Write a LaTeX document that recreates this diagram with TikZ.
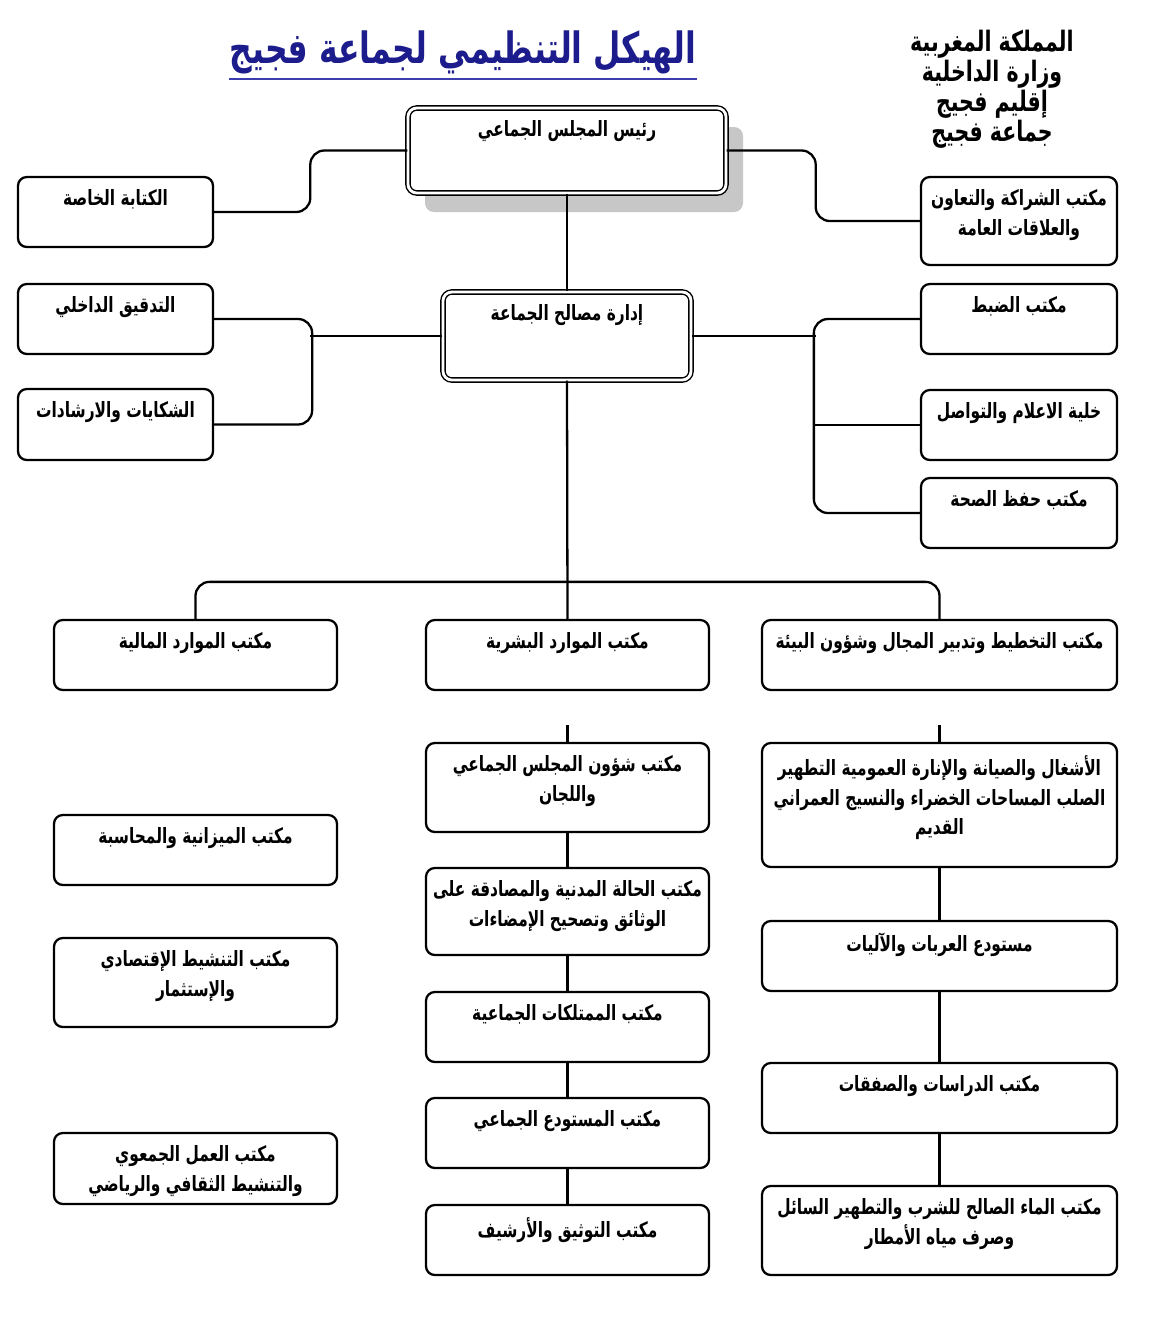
\documentclass[tikz,border=0pt]{standalone}
\usepackage{fontspec}
\usetikzlibrary{shadows}
\TeXXeTstate=1
\newfontfamily\arfont[Script=Arabic,FakeStretch=0.73]{DejaVu Sans}
\definecolor{titleblue}{RGB}{28,28,140}
\definecolor{lineblue}{RGB}{60,60,175}

\begin{document}
\begin{tikzpicture}[x=0.2mm, y=-0.2mm,
  unitbox/.style={draw, line width=1.3pt, rounded corners=5pt, fill=white, inner sep=0pt},
  headbox/.style={unitbox, line width=0.8pt, double, double distance=1.6pt},
  caption/.style={anchor=north, align=center, inner sep=0pt, yshift=-2.6mm, font=\arfont\bfseries\fontsize{12}{17}\selectfont},
  link/.style={line width=1.3pt, rounded corners=8pt}]
% parameters (px -> mm)
\def\px{0.2mm}
\useasboundingbox (0,0) rectangle (1150,1326);
% Title and header
\node[inner sep=0pt, text=titleblue, font=\arfont\bfseries\fontsize{24.5}{28}\selectfont] (title) at (463,52) {\beginR الهيكل التنظيمي لجماعة فجيج\endR};
\draw[lineblue, line width=1.1pt] ([yshift=-3pt]title.south west) -- ([yshift=-3pt]title.south east);
\node[inner sep=0pt, align=center, font=\arfont\bfseries\fontsize{16}{17}\selectfont] (kingdom) at (992,89) {\beginR المملكة المغربية\endR\\\beginR وزارة الداخلية\endR\\\beginR إقليم فجيج\endR\\\beginR جماعة فجيج\endR};
% President and administration
\node[headbox, minimum width=318*\px, minimum height=85*\px, drop shadow={shadow xshift=3.4mm, shadow yshift=-3.8mm, fill=black!22, opacity=1},
      label={[caption]north:{\beginR رئيس المجلس الجماعي\endR}}] (pres) at (567,150.5) {};
\node[headbox, minimum width=248*\px, minimum height=88*\px,
      label={[caption]north:{\beginR إدارة مصالح الجماعة\endR}}] (idara) at (567,336) {};
% Left side boxes
\node[unitbox, minimum width=195*\px, minimum height=70*\px, label={[caption]north:{\beginR الكتابة الخاصة\endR}}] (kitaba) at (115.5,212) {};
\node[unitbox, minimum width=195*\px, minimum height=70*\px, label={[caption]north:{\beginR التدقيق الداخلي\endR}}] (tadqiq) at (115.5,319) {};
\node[unitbox, minimum width=195*\px, minimum height=71*\px, label={[caption]north:{\beginR الشكايات والارشادات\endR}}] (shikayat) at (115.5,424.5) {};
% Right side boxes
\node[unitbox, minimum width=196*\px, minimum height=88*\px, label={[caption]north:{\beginR مكتب الشراكة والتعاون\endR\\\beginR والعلاقات العامة\endR}}] (shiraka) at (1019,221) {};
\node[unitbox, minimum width=196*\px, minimum height=70*\px, label={[caption]north:{\beginR مكتب الضبط\endR}}] (dabt) at (1019,319) {};
\node[unitbox, minimum width=196*\px, minimum height=70*\px, label={[caption]north:{\beginR خلية الاعلام والتواصل\endR}}] (khaliya) at (1019,425) {};
\node[unitbox, minimum width=196*\px, minimum height=70*\px, label={[caption]north:{\beginR مكتب حفظ الصحة\endR}}] (hifd) at (1019,513) {};
% Three main offices
\node[unitbox, minimum width=283*\px, minimum height=70*\px, label={[caption]north:{\beginR مكتب  الموارد المالية\endR}}] (maliya) at (195.5,655) {};
\node[unitbox, minimum width=283*\px, minimum height=70*\px, label={[caption]north:{\beginR مكتب الموارد البشرية\endR}}] (bashari) at (567.5,655) {};
\node[unitbox, minimum width=355*\px, minimum height=70*\px, label={[caption]north:{\beginR مكتب التخطيط وتدبير المجال وشؤون البيئة\endR}}] (takhtit) at (939.5,655) {};
% Left column
\foreach \name/\yc/\h/\txt in {mizaniya/850/70/{\beginR مكتب الميزانية والمحاسبة\endR},
    tanshit/982.5/89/{\beginR مكتب  التنشيط الإقتصادي\endR\\\beginR والإستثمار\endR},
    amal/1168.5/71/{\beginR مكتب العمل الجمعوي\endR\\\beginR والتنشيط الثقافي والرياضي\endR}} {
    \node[unitbox, minimum width=283*\px, minimum height=\h*\px, label={[caption]north:{\txt}}] (\name) at (195.5,\yc) {};
}
% Middle column
\foreach \name/\yc/\h/\txt in {shuun/787.5/89/{\beginR مكتب شؤون المجلس الجماعي\endR\\\beginR واللجان\endR},
    hala/911.5/87/{\beginR مكتب الحالة المدنية  والمصادقة على\endR\\\beginR الوثائق وتصحيح الإمضاءات\endR},
    mumtalakat/1027/70/{\beginR مكتب الممتلكات الجماعية\endR},
    mustawda/1133/70/{\beginR مكتب المستودع الجماعي\endR},
    tawthiq/1240/70/{\beginR مكتب التوثيق والأرشيف\endR}} {
    \node[unitbox, minimum width=283*\px, minimum height=\h*\px, label={[caption]north:{\txt}}] (\name) at (567.5,\yc) {};
}
% Right column
\foreach \name/\yc/\h/\txt in {ashghal/805/124/{\beginR الأشغال والصيانة والإنارة العمومية التطهير\endR\\\beginR الصلب المساحات الخضراء والنسيج العمراني\endR\\\beginR القديم\endR},
    arabat/956/70/{\beginR مستودع العربات والآليات\endR},
    dirasat/1098/70/{\beginR مكتب الدراسات والصفقات\endR},
    maa/1230.5/89/{\beginR مكتب الماء الصالح للشرب والتطهير السائل\endR\\\beginR وصرف مياه الأمطار\endR}} {
    \node[unitbox, minimum width=355*\px, minimum height=\h*\px, label={[caption]north:{\txt}}] (\name) at (939.5,\yc) {};
}
% Connectors
\draw[link] (pres.west) -- ++(-97,0) |- (kitaba.east);
\draw[link] (pres.east) -- ++(89,0) |- (shiraka.west);
\draw[link] (pres.south) -- (idara.north);
\draw[link] (idara.west) -- ++(-132,0);
\draw[link] (tadqiq.east) -- ++(98,0) |- (shikayat.east);
\draw[link] (idara.east) -- ++(124,0);
\draw[link] (dabt.west) -- ++(-106,0) |- (hifd.west);
\draw[link] (khaliya.west) -- ++(-106,0);
\draw[link] (idara.south) -- (bashari.north);
\draw[link] (maliya.north) -- ++(0,-37) -| (takhtit.north);
\coordinate (midstub) at (567.5,725);
\coordinate (rightstub) at (939.5,725);
\draw[link] (midstub) -- (shuun.north);
\draw[link] (rightstub) -- (ashghal.north);
\foreach \a/\b in {shuun/hala, hala/mumtalakat, mumtalakat/mustawda, mustawda/tawthiq, ashghal/arabat, arabat/dirasat, dirasat/maa} {
    \draw[link] (\a) -- (\b);
}
\end{tikzpicture}
\end{document}
